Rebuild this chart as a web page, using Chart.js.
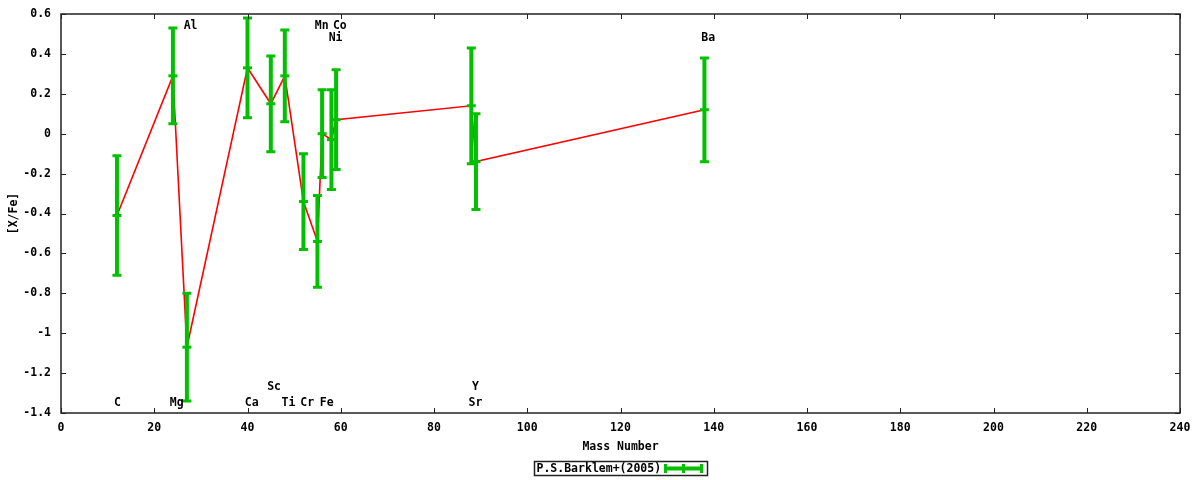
<!DOCTYPE html>
<html>
<head>
<meta charset="utf-8">
<script src="https://cdn.jsdelivr.net/npm/chart.js@4/dist/chart.umd.min.js"></script>
<style>
  body { margin: 0; background: #fff; }
  #wrap { width: 1200px; height: 480px; }
</style>
</head>
<body>
<div id="wrap"><canvas id="abundChart"></canvas></div>
<script>
// element, mass number, [X/Fe] and its error
const elements = ['C', 'Mg', 'Al', 'Ca', 'Sc', 'Ti', 'Cr', 'Mn', 'Fe', 'Ni', 'Co', 'Sr', 'Y', 'Ba'];
const massNumber = [12, 24, 27, 40, 45, 48, 52, 55, 56, 58, 59, 88, 89, 138];
const xFe = [-0.41, 0.29, -1.07, 0.33, 0.15, 0.29, -0.34, -0.54, 0.00, -0.03, 0.07, 0.14, -0.14, 0.12];
const xFeErr = [0.30, 0.24, 0.27, 0.25, 0.24, 0.23, 0.24, 0.23, 0.22, 0.25, 0.25, 0.29, 0.24, 0.26];

// element name labels (data coordinates)
const labelText = ['C', 'Mg', 'Al', 'Ca', 'Sc', 'Ti', 'Cr', 'Fe', 'Mn', 'Co', 'Ni', 'Sr', 'Y', 'Ba'];
const labelX = [12.1, 24.8, 27.8, 40.9, 45.7, 48.8, 52.8, 57.0, 55.9, 59.8, 58.9, 88.9, 88.9, 138.8];
const labelY = [-1.35, -1.35, 0.54, -1.35, -1.27, -1.35, -1.35, -1.35, 0.54, 0.54, 0.48, -1.35, -1.27, 0.48];

const xTicks = [0, 20, 40, 60, 80, 100, 120, 140, 160, 180, 200, 220, 240];
const yTicks = [-1.4, -1.2, -1, -0.8, -0.6, -0.4, -0.2, 0, 0.2, 0.4, 0.6];

const legendTitle = 'P.S.Barklem+(2005)';
const FONT = 'bold 11.5px "DejaVu Sans Mono", monospace';
const GREEN = '#00c000';

const points = massNumber.map((m, i) => ({ x: m, y: xFe[i] }));

const gnuplotLook = {
  id: 'gnuplotLook',
  afterDatasetsDraw(chart) {
    const { ctx, chartArea: a, scales: { x, y } } = chart;
    ctx.save();
    // error bars
    ctx.strokeStyle = GREEN;
    massNumber.forEach((m, i) => {
      const px = x.getPixelForValue(m);
      const top = y.getPixelForValue(xFe[i] + xFeErr[i]);
      const bot = y.getPixelForValue(xFe[i] - xFeErr[i]);
      ctx.lineWidth = 4;
      ctx.beginPath();
      ctx.moveTo(px, top);
      ctx.lineTo(px, bot);
      ctx.stroke();
      ctx.lineWidth = 3;
      ctx.beginPath();
      ctx.moveTo(px - 4.5, top); ctx.lineTo(px + 4.5, top);
      ctx.moveTo(px - 4.5, bot); ctx.lineTo(px + 4.5, bot);
      ctx.stroke();
    });

    // frame
    ctx.strokeStyle = '#222';
    ctx.lineWidth = 1.5;
    ctx.strokeRect(a.left, a.top, a.right - a.left, a.bottom - a.top);

    // inward ticks on all sides
    ctx.lineWidth = 1;
    ctx.beginPath();
    xTicks.forEach(v => {
      const px = Math.round(x.getPixelForValue(v)) + 0.5;
      ctx.moveTo(px, a.bottom); ctx.lineTo(px, a.bottom - 5);
      ctx.moveTo(px, a.top); ctx.lineTo(px, a.top + 5);
    });
    yTicks.forEach(v => {
      const py = Math.round(y.getPixelForValue(v)) + 0.5;
      ctx.moveTo(a.left, py); ctx.lineTo(a.left + 5, py);
      ctx.moveTo(a.right, py); ctx.lineTo(a.right - 5, py);
    });
    ctx.stroke();

    // element labels
    ctx.fillStyle = '#000';
    ctx.font = FONT;
    ctx.textAlign = 'center';
    ctx.textBaseline = 'middle';
    labelText.forEach((t, i) => {
      ctx.fillText(t, x.getPixelForValue(labelX[i]), y.getPixelForValue(labelY[i]));
    });

    // legend box
    const cx = (a.left + a.right) / 2;
    const boxW = 173, boxH = 14;
    const bx = Math.round(cx - boxW / 2) + 0.5;
    const by = 461.5;
    ctx.strokeStyle = '#222';
    ctx.lineWidth = 1.5;
    ctx.strokeRect(bx, by, boxW, boxH);
    ctx.textAlign = 'left';
    ctx.fillText(legendTitle, bx + 2, by + boxH / 2 + 0.5);
    const sx0 = bx + 131, sx1 = bx + 167, sy = by + boxH / 2;
    ctx.strokeStyle = GREEN;
    ctx.lineWidth = 4;
    ctx.beginPath();
    ctx.moveTo(sx0, sy); ctx.lineTo(sx1, sy);
    ctx.stroke();
    ctx.lineWidth = 3;
    ctx.beginPath();
    [sx0, (sx0 + sx1) / 2, sx1].forEach(sx => {
      ctx.moveTo(sx, sy - 4.5); ctx.lineTo(sx, sy + 4.5);
    });
    ctx.stroke();
    ctx.restore();
  }
};

const ctx = document.getElementById('abundChart').getContext('2d');
new Chart(ctx, {
  type: 'scatter',
  data: {
    datasets: [{
      label: 'line',
      data: points,
      showLine: true,
      borderColor: '#ff0000',
      borderWidth: 1.6,
      pointRadius: 0,
      order: 2
    }, {
      label: legendTitle,
      data: points,
      showLine: false,
      pointStyle: 'line',
      pointRadius: 4.5,
      borderWidth: 3,
      borderColor: GREEN,
      backgroundColor: GREEN,
      order: 1
    }]
  },
  options: {
    responsive: true,
    maintainAspectRatio: false,
    animation: false,
    layout: { padding: { left: 0, top: 14, right: 20, bottom: 0 } },
    plugins: {
      legend: { display: false },
      tooltip: { enabled: false }
    },
    scales: {
      x: {
        type: 'linear',
        min: 0,
        max: 240,
        afterFit: s => { s.height = 67; s.paddingLeft = 0; s.paddingRight = 0; },
        afterBuildTicks: s => { s.ticks = xTicks.map(v => ({ value: v })); },
        grid: { display: false, drawTicks: false },
        border: { display: false },
        ticks: { color: '#000', font: { family: '"DejaVu Sans Mono"', size: 11.5, weight: 'bold' }, padding: 8 },
        title: {
          display: true,
          text: 'Mass Number',
          color: '#000',
          font: { family: '"DejaVu Sans Mono"', size: 11.5, weight: 'bold' },
          padding: { top: 0, bottom: 26 }
        }
      },
      y: {
        type: 'linear',
        min: -1.4,
        max: 0.6,
        afterFit: s => { s.width = 61; s.paddingTop = 0; s.paddingBottom = 0; },
        afterBuildTicks: s => { s.ticks = yTicks.map(v => ({ value: v })); },
        grid: { display: false, drawTicks: false },
        border: { display: false },
        ticks: {
          color: '#000',
          font: { family: '"DejaVu Sans Mono"', size: 11.5, weight: 'bold' },
          padding: 10,
          callback: v => { const r = Math.round(v * 10) / 10; return r === 0 ? '0' : String(r); }
        },
        title: {
          display: true,
          text: '[X/Fe]',
          color: '#000',
          font: { family: '"DejaVu Sans Mono"', size: 11.5, weight: 'bold' },
          padding: { top: 7, bottom: 0 }
        }
      }
    }
  },
  plugins: [gnuplotLook]
});
</script>
</body>
</html>
